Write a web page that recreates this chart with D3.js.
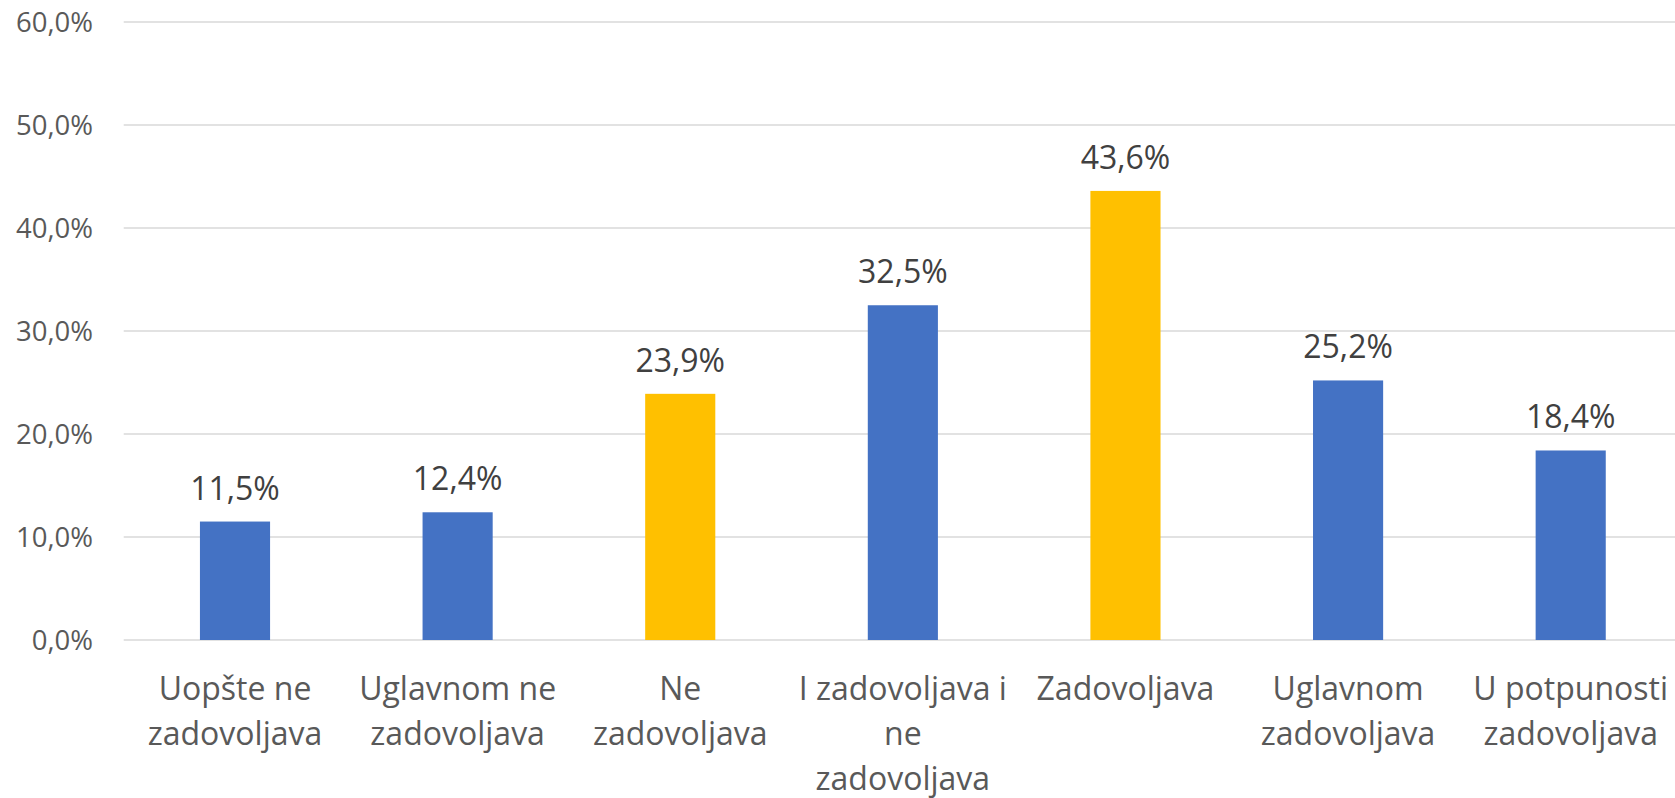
<!DOCTYPE html>
<html>
<head>
<meta charset="utf-8">
<script src="https://cdn.jsdelivr.net/npm/d3@7"></script>
<style>
  html, body { margin: 0; padding: 0; background: #fff; }
  svg { display: block; }
  text { font-family: "Open Sans", "Noto Sans", sans-serif; }
</style>
</head>
<body>
<svg id="chart" width="1675" height="798"></svg>
<script>
// ---- data ----
const categories = [
  "Uopšte ne zadovoljava",
  "Uglavnom ne zadovoljava",
  "Ne zadovoljava",
  "I zadovoljava i ne zadovoljava",
  "Zadovoljava",
  "Uglavnom zadovoljava",
  "U potpunosti zadovoljava"
];
const values = [11.5, 12.4, 23.9, 32.5, 43.6, 25.2, 18.4];
const barColors = ["#4472C4", "#4472C4", "#FFC000", "#4472C4", "#FFC000", "#4472C4", "#4472C4"];
const yTicks = [0, 10, 20, 30, 40, 50, 60];

// ---- layout ----
const W = 1675, H = 798;
const plot = { left: 123.7, right: 1682, top: 22, bottom: 640 };

const svg = d3.select("#chart");
const locale = d3.formatLocale({ decimal: ",", thousands: ".", grouping: [3], currency: ["", ""] });
const fmt = v => locale.format(".1f")(v) + "%";

const x = d3.scaleBand().domain(categories).range([plot.left, plot.right]).padding(0);
const y = d3.scaleLinear().domain([0, 60]).range([plot.bottom, plot.top]);
const barW = x.bandwidth() * 0.315;

// gridlines
svg.append("g").selectAll("line").data(yTicks).join("line")
  .attr("x1", plot.left).attr("x2", W)
  .attr("y1", d => y(d)).attr("y2", d => y(d))
  .attr("stroke", "#D9D9D9").attr("stroke-width", 1.5);

// y axis labels
const yAxis = d3.axisLeft(y).tickValues(yTicks).tickSize(0).tickPadding(0).tickFormat(fmt);
const gy = svg.append("g").attr("transform", `translate(93,0)`).call(yAxis);
gy.select(".domain").remove();
gy.selectAll("text")
  .attr("fill", "#595959")
  .style("font-size", "27.5px")
  .attr("dy", "0.35em");

// bars
svg.append("g").selectAll("rect").data(values).join("rect")
  .attr("x", (d, i) => x(categories[i]) + x.bandwidth() / 2 - barW / 2)
  .attr("width", barW)
  .attr("y", d => y(d))
  .attr("height", d => y(0) - y(d))
  .attr("fill", (d, i) => barColors[i]);

// data labels
svg.append("g").selectAll("text").data(values).join("text")
  .attr("x", (d, i) => x(categories[i]) + x.bandwidth() / 2)
  .attr("y", d => y(d) - 22)
  .attr("text-anchor", "middle")
  .attr("fill", "#404040")
  .style("font-size", "32px")
  .text(d => fmt(d));

// category labels with wrapping
const wrapWidth = 218;
const lineH = 45;
const firstBaseline = 700;
const catG = svg.append("g");
categories.forEach((c, i) => {
  const cx = x(c) + x.bandwidth() / 2;
  const t = catG.append("text")
    .attr("text-anchor", "middle")
    .attr("fill", "#595959")
    .style("font-size", "32px");
  const words = c.split(" ");
  let lines = [];
  let cur = [];
  const probe = t.append("tspan");
  words.forEach(w => {
    const test = cur.concat([w]).join(" ");
    probe.text(test);
    if (probe.node().getComputedTextLength() > wrapWidth && cur.length) {
      lines.push(cur.join(" "));
      cur = [w];
    } else {
      cur.push(w);
    }
  });
  if (cur.length) lines.push(cur.join(" "));
  probe.remove();
  lines.forEach((ln, k) => {
    t.append("tspan").attr("x", cx).attr("y", firstBaseline + k * lineH).text(ln);
  });
});
</script>
</body>
</html>
